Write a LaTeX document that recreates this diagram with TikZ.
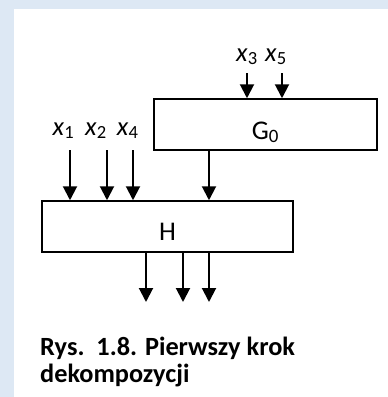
\documentclass[tikz,border=0pt]{standalone}
\usepackage{fontspec}
\setmainfont{Carlito}
\usepackage{tikz}
\usetikzlibrary{arrows.meta}
\definecolor{bgblue}{RGB}{221,232,244}

\begin{document}
\begin{tikzpicture}[x=1pt, y=-1pt,
  blk/.style={draw, line width=1.5pt, minimum width=#1, minimum height=51pt, inner sep=0pt},
  arr/.style={line width=2pt, -{Triangle[width=14pt,length=14pt]}},
  lbl/.style={anchor=base west, inner sep=0pt, font=\fontsize{26.5}{30}\selectfont},
  txt/.style={anchor=base, inner sep=0pt, font=\fontsize{27}{30}\selectfont},
  captxt/.style={anchor=base west, inner sep=0pt, font=\fontsize{26.3}{30}\selectfont\bfseries}]
  \fill[bgblue] (0,0) rectangle (388,397);
  \fill[white] (14,9) rectangle (388,397);
  % blocks
  \node (g0) [blk=223pt] at (265.5,124.5) {};
  \node (h) [blk=251pt] at (167.5,226.5) {};
  \node (g0t) [txt] at (265.5,139) {G\textsubscript{0}};
  \node (ht) [txt] at (167.5,240) {H};
  % inputs
  \node (l1) [lbl] at (52.5,135) {\textit{x}\textsubscript{1}};
  \node (l2) [lbl] at (85,135) {\textit{x}\textsubscript{2}};
  \node (l4) [lbl] at (116.7,135) {\textit{x}\textsubscript{4}};
  \node (l3) [lbl] at (236,61) {\textit{x}\textsubscript{3}};
  \node (l5) [lbl] at (265,61) {\textit{x}\textsubscript{5}};
  \coordinate (a1) at (70,150);
  \coordinate (a2) at (107,150);
  \coordinate (a4) at (133,150);
  \coordinate (a3) at (247,73);
  \coordinate (a5) at (282,73);
  \coordinate (o1) at (146,302);
  \coordinate (o2) at (183,302);
  \coordinate (o3) at (209,302);
  \foreach \c in {a1,a2,a4} \draw[arr] (\c) -- (\c |- h.north);
  \foreach \c in {a3,a5} \draw[arr] (\c) -- (\c |- g0.north);
  \draw[arr] (g0.south -| o3) -- (h.north -| o3);
  % outputs
  \foreach \c in {o1,o2,o3} \draw[arr] (\c |- h.south) -- (\c);
  % caption
  \node (cap1) [captxt] at (40,355) {Rys.\ \ 1.8. Pierwszy krok};
  \node (cap2) [captxt] at (40,382) {dekompozycji};
\end{tikzpicture}
\end{document}
